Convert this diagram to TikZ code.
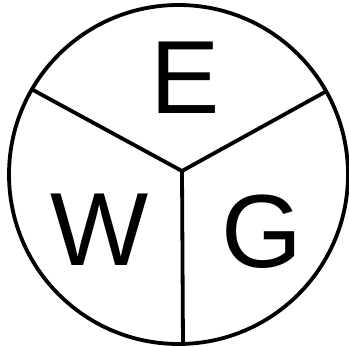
\documentclass[tikz,border=0pt]{standalone}
\usepackage{fontspec}
\setmainfont{Liberation Sans}
\begin{document}
\begin{tikzpicture}[x=1pt,y=-1pt,
  ln/.style={line width=3.8pt,black},
  lbl/.style={inner sep=0pt,text depth=0pt,font=\fontsize{104}{104}\selectfont}]
\useasboundingbox (0,0) rectangle (349,347);
\coordinate (c) at (178.5,174.5);
\coordinate (j) at (182,171);
\coordinate (l) at (33,90);
\coordinate (r) at (325,92);
\coordinate (b) at (183,345);
\draw[ln] (c) circle[radius=169.5];
\draw[ln] (l) -- (j) -- (r);
\draw[ln] (j) -- (b);
\node[lbl] (E) at (185.5,77.5) {E};
\node[lbl] (W) at (100,230) {W};
\node[lbl] (G) at (262,231) {G};
\end{tikzpicture}
\end{document}
